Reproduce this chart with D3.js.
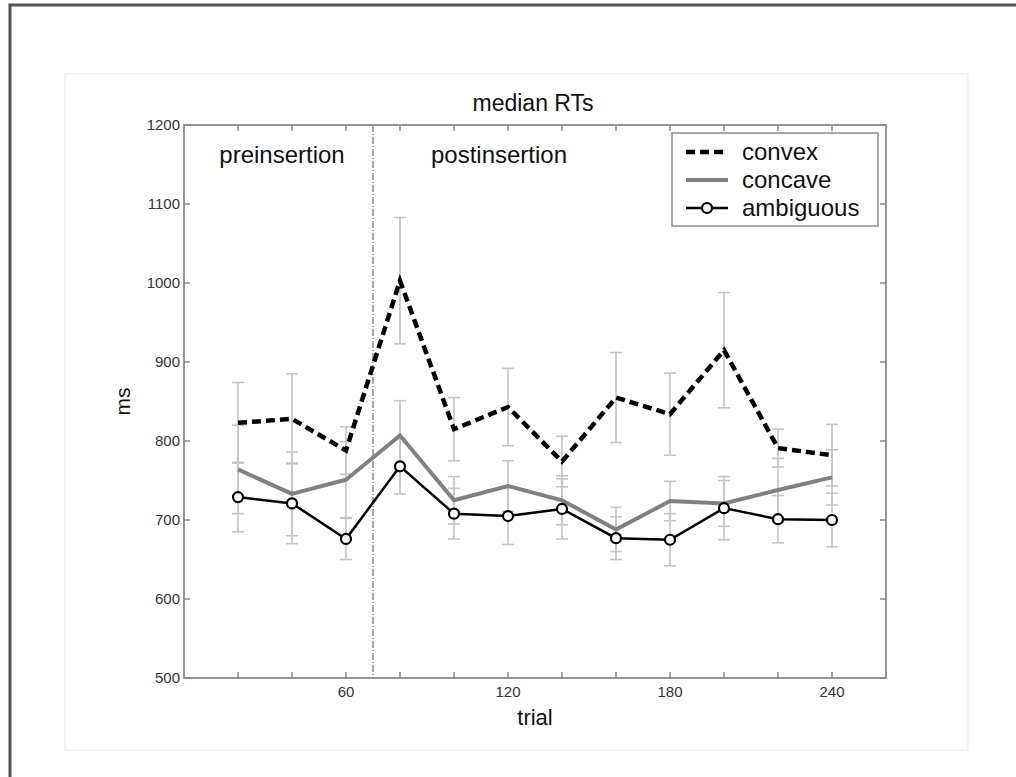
<!DOCTYPE html>
<html>
<head>
<meta charset="utf-8">
<script src="https://cdn.jsdelivr.net/npm/d3@7"></script>
<style>
  html, body { margin: 0; padding: 0; background: #fff; }
  svg { display: block; font-family: "Liberation Sans", Arial, sans-serif; }
</style>
</head>
<body>
<svg id="chart" width="1016" height="777"></svg>
<script>
'use strict';

// data
const trials = [20, 40, 60, 80, 100, 120, 140, 160, 180, 200, 220, 240];
const convex = [823, 828, 788, 1003, 815, 843, 774, 855, 834, 915, 791, 782];
const convexErr = [51, 57, 30, 80, 40, 49, 32, 57, 52, 73, 24, 39];
const concave = [764, 733, 751, 807, 725, 743, 725, 688, 724, 721, 738, 754];
const concaveErr = [56, 53, 48, 44, 30, 32, 31, 28, 25, 29, 40, 35];
const ambiguous = [729, 721, 676, 768, 708, 705, 714, 677, 675, 715, 701, 700];
const ambiguousErr = [44, 51, 26, 35, 32, 36, 38, 27, 33, 40, 30, 34];

const xTicks = [20, 40, 60, 80, 100, 120, 140, 160, 180, 200, 220, 240];
const xTickLabels = [60, 120, 180, 240];
const yTicks = [500, 600, 700, 800, 900, 1000, 1100, 1200];
const insertionTrial = 70;
const seriesNames = ["convex", "concave", "ambiguous"];

const svg = d3.select("#chart");

// outer frame (only top and left edges show in the picture)
svg.append("path")
  .attr("d", "M10,777 L10,5 L1016,5")
  .attr("fill", "none")
  .attr("stroke", "#555")
  .attr("stroke-width", 3);

// faint figure panel
svg.append("rect")
  .attr("x", 65).attr("y", 74)
  .attr("width", 903).attr("height", 676)
  .attr("fill", "#fff")
  .attr("stroke", "#f0f0f0")
  .attr("stroke-width", 1.5);

const plotL = 184, plotR = 886, plotT = 125, plotB = 678;
const x = d3.scaleLinear().domain([0, 260]).range([plotL, plotR]);
const y = d3.scaleLinear().domain([500, 1200]).range([plotB, plotT]);

const axisColor = "#8a8a8a";
const tickLen = 6;

// box
svg.append("rect")
  .attr("x", plotL).attr("y", plotT)
  .attr("width", plotR - plotL).attr("height", plotB - plotT)
  .attr("fill", "#fff")
  .attr("stroke", axisColor)
  .attr("stroke-width", 1.8);

// ticks on all four sides, pointing inward
const tickG = svg.append("g").attr("stroke", axisColor).attr("stroke-width", 1.5);
xTicks.forEach(t => {
  tickG.append("line").attr("x1", x(t)).attr("x2", x(t)).attr("y1", plotB).attr("y2", plotB - tickLen);
  tickG.append("line").attr("x1", x(t)).attr("x2", x(t)).attr("y1", plotT).attr("y2", plotT + tickLen);
});
yTicks.forEach(t => {
  tickG.append("line").attr("x1", plotL).attr("x2", plotL + tickLen).attr("y1", y(t)).attr("y2", y(t));
  tickG.append("line").attr("x1", plotR).attr("x2", plotR - tickLen).attr("y1", y(t)).attr("y2", y(t));
});

// tick labels
svg.append("g").selectAll("text")
  .data(yTicks)
  .enter().append("text")
  .attr("x", plotL - 4)
  .attr("y", d => y(d))
  .attr("dy", "0.35em")
  .attr("text-anchor", "end")
  .attr("font-size", 15)
  .attr("fill", "#333")
  .text(d => d);

svg.append("g").selectAll("text")
  .data(xTickLabels)
  .enter().append("text")
  .attr("x", d => x(d))
  .attr("y", 697)
  .attr("text-anchor", "middle")
  .attr("font-size", 15)
  .attr("fill", "#333")
  .text(d => d);

// axis labels and title
svg.append("text")
  .attr("x", (plotL + plotR) / 2).attr("y", 725)
  .attr("text-anchor", "middle")
  .attr("font-size", 22)
  .attr("fill", "#111")
  .text("trial");

svg.append("text")
  .attr("transform", `translate(130,${(plotT + plotB) / 2}) rotate(-90)`)
  .attr("text-anchor", "middle")
  .attr("font-size", 21)
  .attr("fill", "#111")
  .text("ms");

svg.append("text")
  .attr("x", 533).attr("y", 111)
  .attr("text-anchor", "middle")
  .attr("font-size", 23)
  .attr("fill", "#111")
  .text("median RTs");

// insertion marker
svg.append("line")
  .attr("x1", x(insertionTrial)).attr("x2", x(insertionTrial))
  .attr("y1", plotT).attr("y2", plotB)
  .attr("stroke", "#888")
  .attr("stroke-width", 1.5)
  .attr("stroke-dasharray", "7,2,1,2");

svg.append("text")
  .attr("x", 282).attr("y", 163)
  .attr("text-anchor", "middle")
  .attr("font-size", 24)
  .attr("fill", "#111")
  .text("preinsertion");

svg.append("text")
  .attr("x", 499).attr("y", 163)
  .attr("text-anchor", "middle")
  .attr("font-size", 24)
  .attr("fill", "#111")
  .text("postinsertion");

// error bars
const errG = svg.append("g")
  .attr("stroke", "#c4c4c4")
  .attr("stroke-width", 1.6)
  .attr("fill", "none");
const capHalf = 6;
function drawErr(vals, errs) {
  trials.forEach((t, i) => {
    const cx = x(t), hi = y(vals[i] + errs[i]), lo = y(vals[i] - errs[i]);
    errG.append("line").attr("x1", cx).attr("x2", cx).attr("y1", hi).attr("y2", lo);
    errG.append("line").attr("x1", cx - capHalf).attr("x2", cx + capHalf).attr("y1", hi).attr("y2", hi);
    errG.append("line").attr("x1", cx - capHalf).attr("x2", cx + capHalf).attr("y1", lo).attr("y2", lo);
  });
}
drawErr(convex, convexErr);
drawErr(concave, concaveErr);
drawErr(ambiguous, ambiguousErr);

const line = d3.line().x((d, i) => x(trials[i])).y(d => y(d));

svg.append("path")
  .datum(concave)
  .attr("d", line)
  .attr("fill", "none")
  .attr("stroke", "#808080")
  .attr("stroke-width", 4);

svg.append("path")
  .datum(convex)
  .attr("d", line)
  .attr("fill", "none")
  .attr("stroke", "#000")
  .attr("stroke-width", 4.5)
  .attr("stroke-dasharray", "9,5");

svg.append("path")
  .datum(ambiguous)
  .attr("d", line)
  .attr("fill", "none")
  .attr("stroke", "#000")
  .attr("stroke-width", 2.5);

svg.append("g").selectAll("circle")
  .data(ambiguous)
  .enter().append("circle")
  .attr("cx", (d, i) => x(trials[i]))
  .attr("cy", d => y(d))
  .attr("r", 5)
  .attr("fill", "#fff")
  .attr("stroke", "#000")
  .attr("stroke-width", 2.2);

// legend
const lg = svg.append("g");
lg.append("rect")
  .attr("x", 672).attr("y", 133)
  .attr("width", 206).attr("height", 93)
  .attr("fill", "#fff")
  .attr("stroke", axisColor)
  .attr("stroke-width", 1.5);

const legendY = [152, 180, 208];
const legendStyles = [
  { stroke: "#000", width: 4.5, dash: "9,5", marker: false },
  { stroke: "#808080", width: 4, dash: null, marker: false },
  { stroke: "#000", width: 2.5, dash: null, marker: true }
];
seriesNames.forEach((name, i) => {
  const st = legendStyles[i];
  lg.append("line")
    .attr("x1", 686).attr("x2", 728)
    .attr("y1", legendY[i]).attr("y2", legendY[i])
    .attr("stroke", st.stroke)
    .attr("stroke-width", st.width)
    .attr("stroke-dasharray", st.dash);
  if (st.marker) {
    lg.append("circle")
      .attr("cx", 707).attr("cy", legendY[i]).attr("r", 5)
      .attr("fill", "#fff").attr("stroke", "#000").attr("stroke-width", 2.2);
  }
  lg.append("text")
    .attr("x", 742).attr("y", legendY[i])
    .attr("dy", "0.33em")
    .attr("font-size", 24)
    .attr("fill", "#111")
    .text(name);
});
</script>
</body>
</html>
